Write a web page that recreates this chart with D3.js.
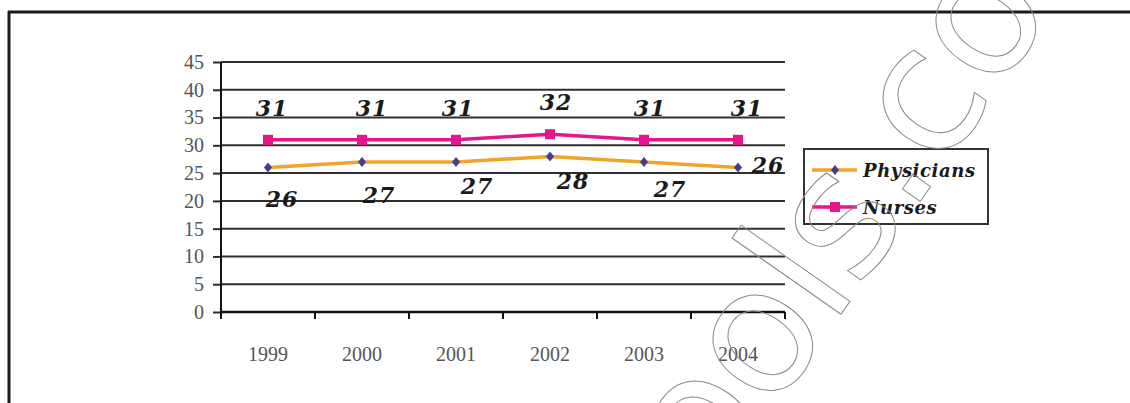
<!DOCTYPE html>
<html>
<head>
<meta charset="utf-8">
<script src="https://cdn.jsdelivr.net/npm/d3@7"></script>
<style>
  body { margin: 0; background: #fff; }
  svg { display: block; }
</style>
</head>
<body>
<svg id="chart" width="1130" height="403"></svg>
<script>
// ---- data ----
const years = ["1999", "2000", "2001", "2002", "2003", "2004"];
const physicians = [26, 27, 27, 28, 27, 26];
const nurses = [31, 31, 31, 32, 31, 31];
const yTicks = [0, 5, 10, 15, 20, 25, 30, 35, 40, 45];
const seriesNames = ["Physicians", "Nurses"];

// hand-placed value labels: [dx, dy] from each point, in px
const physLabelShift = [[14, 31], [17, 33], [21, 24], [23, 25], [26, 27], [30, -3]];
const nurseLabelShift = [[4, -32], [10, -32], [2, -32], [6, -32], [6, -32], [9, -32]];

// ---- styles ----
const physColor = "#efa42a";
const physMarker = "#463c8c";
const nurseColor = "#e5168b";
const axisFont = "'Liberation Serif', 'Times New Roman', serif";
const labelFont = "'DejaVu Serif', 'Liberation Serif', serif";

const svg = d3.select("#chart");

// page frame
svg.append("line").attr("x1", 8).attr("x2", 1130).attr("y1", 12).attr("y2", 12)
  .attr("stroke", "#1a1a1a").attr("stroke-width", 3);
svg.append("line").attr("x1", 9).attr("x2", 9).attr("y1", 11).attr("y2", 403)
  .attr("stroke", "#1a1a1a").attr("stroke-width", 3);

// ---- scales ----
const plot = { left: 221, right: 785, top: 62, bottom: 312 };
const x = d3.scaleBand().domain(years).range([plot.left, plot.right]);
const y = d3.scaleLinear().domain([0, 45]).range([plot.bottom, plot.top]);
const cx = d => x(d) + x.bandwidth() / 2;

// gridlines
svg.append("g").selectAll("line")
  .data(yTicks.filter(t => t > 0))
  .join("line")
  .attr("x1", plot.left).attr("x2", plot.right)
  .attr("y1", d => y(d)).attr("y2", d => y(d))
  .attr("stroke", "#2e2e2e").attr("stroke-width", 2);

// y axis
const yAxis = svg.append("g")
  .attr("transform", `translate(${plot.left},0)`)
  .call(d3.axisLeft(y).tickValues(yTicks).tickSize(8).tickPadding(9));
yAxis.select(".domain").remove();
yAxis.selectAll(".tick line").attr("stroke", "#2e2e2e").attr("stroke-width", 2);
yAxis.selectAll(".tick text")
  .attr("font-family", axisFont).attr("font-size", 20).attr("fill", "#555");
svg.append("line").attr("x1", plot.left).attr("x2", plot.left)
  .attr("y1", plot.top).attr("y2", plot.bottom + 3)
  .attr("stroke", "#111").attr("stroke-width", 2);

// x axis: labels centred in each band, ticks on the band edges
const xAxis = svg.append("g")
  .attr("transform", `translate(0,${plot.bottom})`)
  .call(d3.axisBottom(x).tickSize(0).tickPadding(35));
xAxis.select(".domain").remove();
xAxis.selectAll(".tick text")
  .attr("font-family", axisFont).attr("font-size", 20).attr("fill", "#555");
svg.append("line").attr("x1", plot.left).attr("x2", plot.right)
  .attr("y1", plot.bottom).attr("y2", plot.bottom)
  .attr("stroke", "#111").attr("stroke-width", 2.5);
svg.append("g").selectAll("line")
  .data(years.map(d => x(d)).concat([plot.right]))
  .join("line")
  .attr("x1", d => d).attr("x2", d => d)
  .attr("y1", plot.bottom).attr("y2", plot.bottom + 7)
  .attr("stroke", "#111").attr("stroke-width", 2);

// ---- series ----
const line = d3.line().x(d => cx(d.year)).y(d => y(d.value));
const physData = years.map((yr, i) => ({ year: yr, value: physicians[i] }));
const nurseData = years.map((yr, i) => ({ year: yr, value: nurses[i] }));

svg.append("path").datum(physData).attr("d", line)
  .attr("fill", "none").attr("stroke", physColor).attr("stroke-width", 3.5);
svg.append("path").datum(nurseData).attr("d", line)
  .attr("fill", "none").attr("stroke", nurseColor).attr("stroke-width", 3.5);

const diamond = (px, py) => `M${px},${py - 5}L${px + 4},${py}L${px},${py + 5}L${px - 4},${py}Z`;

svg.append("g").selectAll("path")
  .data(physData).join("path")
  .attr("d", d => diamond(cx(d.year), y(d.value)))
  .attr("fill", physMarker);
svg.append("g").selectAll("rect")
  .data(nurseData).join("rect")
  .attr("x", d => cx(d.year) - 5).attr("y", d => y(d.value) - 5)
  .attr("width", 10).attr("height", 10)
  .attr("fill", nurseColor);

// value labels
function valueLabels(data, shifts) {
  svg.append("g").selectAll("text")
    .data(data).join("text")
    .attr("x", (d, i) => cx(d.year) + shifts[i][0])
    .attr("y", (d, i) => y(d.value) + shifts[i][1] + 8)
    .attr("text-anchor", "middle")
    .attr("font-family", labelFont).attr("font-size", 22)
    .attr("font-weight", "bold").attr("font-style", "italic")
    .attr("letter-spacing", 1)
    .attr("fill", "#1a1a1a")
    .text(d => d.value);
}
valueLabels(physData, physLabelShift);
valueLabels(nurseData, nurseLabelShift);

// ---- legend ----
const legend = svg.append("g");
legend.append("rect").attr("x", 804).attr("y", 149).attr("width", 184).attr("height", 75)
  .attr("fill", "#fff").attr("stroke", "#333").attr("stroke-width", 2);
const legendRows = [
  { name: seriesNames[0], color: physColor, marker: "diamond", yy: 170 },
  { name: seriesNames[1], color: nurseColor, marker: "square", yy: 207 }
];
legendRows.forEach(r => {
  legend.append("line").attr("x1", 812).attr("x2", 857).attr("y1", r.yy).attr("y2", r.yy)
    .attr("stroke", r.color).attr("stroke-width", 3.5);
  if (r.marker === "diamond") {
    legend.append("path").attr("d", diamond(835, r.yy)).attr("fill", physMarker);
  } else {
    legend.append("rect").attr("x", 830).attr("y", r.yy - 5).attr("width", 10).attr("height", 10)
      .attr("fill", nurseColor);
  }
  legend.append("text").attr("x", 863).attr("y", r.yy + 7)
    .attr("font-family", labelFont).attr("font-size", 18)
    .attr("font-weight", "bold").attr("font-style", "italic")
    .attr("letter-spacing", 0.6).attr("fill", "#1a1a1a")
    .text(r.name);
});

// ---- outlined watermark across the page ----
svg.append("text")
  .attr("transform", "translate(711,500) rotate(-55)")
  .attr("font-family", "'DejaVu Sans', sans-serif")
  .attr("font-size", 175)
  .attr("letter-spacing", -2)
  .attr("fill", "none")
  .attr("stroke", "#8a8a8a")
  .attr("stroke-width", 1)
  .text("ools.com");
</script>
</body>
</html>
